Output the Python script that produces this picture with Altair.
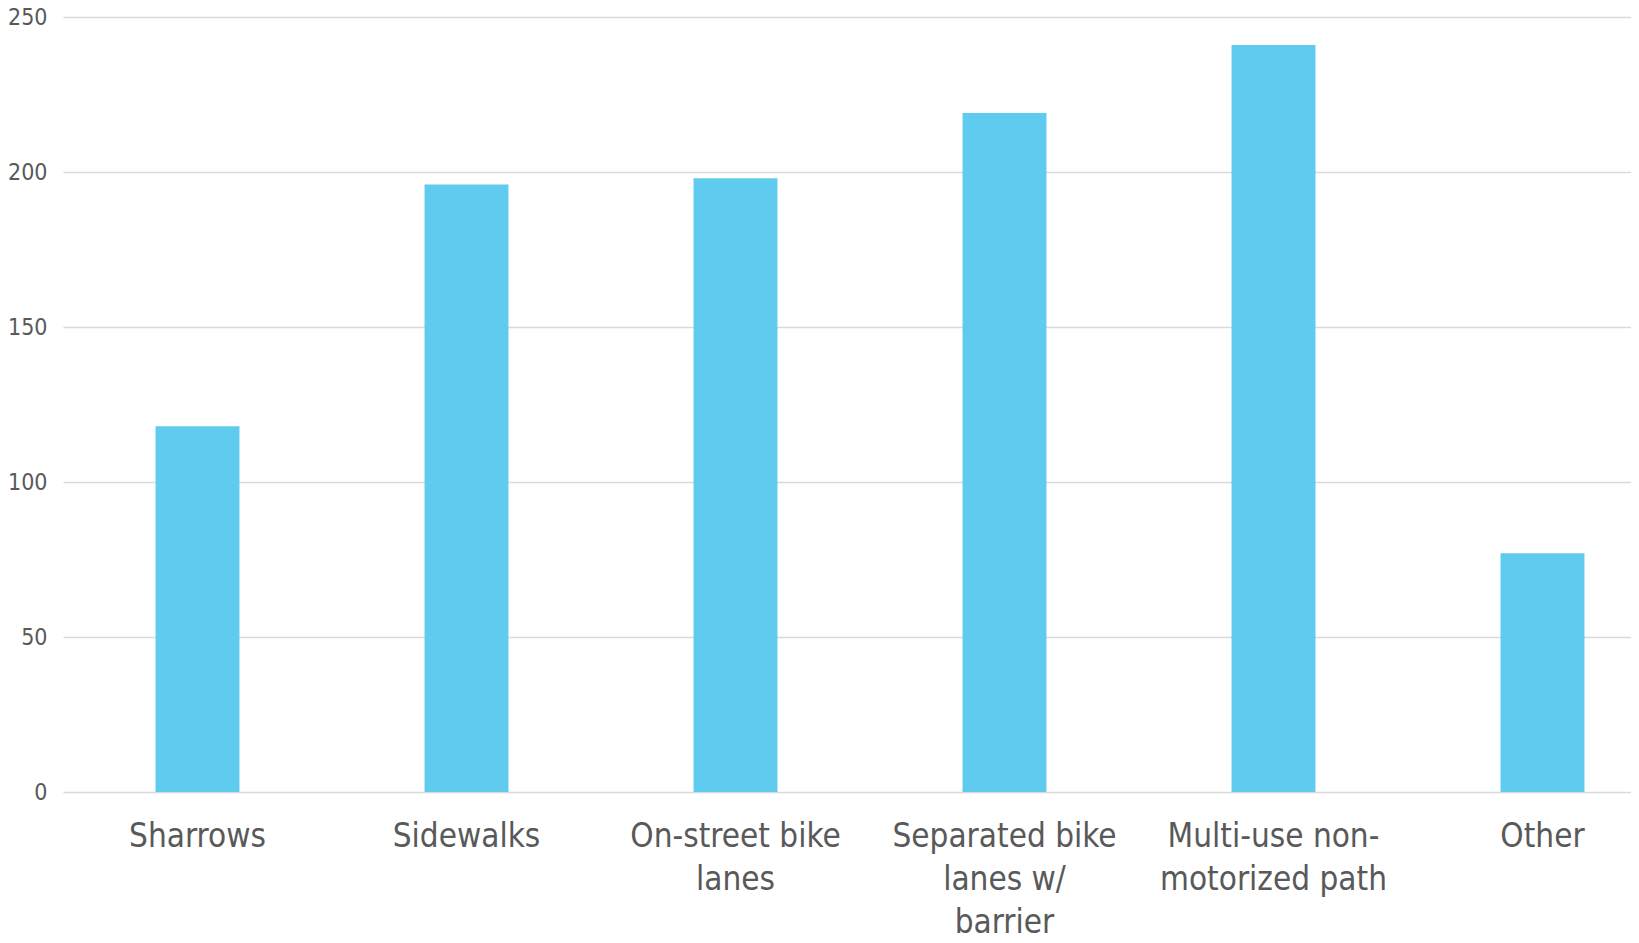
import altair as alt
import pandas as pd

categories = [
    "Sharrows",
    "Sidewalks",
    "On-street bike\nlanes",
    "Separated bike\nlanes w/\nbarrier",
    "Multi-use non-\nmotorized path",
    "Other",
]
values = [118, 196, 198, 219, 241, 77]
y_ticks = [0, 50, 100, 150, 200, 250]

df = pd.DataFrame({"category": categories, "value": values})

FONT = "DejaVu Sans Condensed, Lato, DejaVu Sans"

chart = (
    alt.Chart(df)
    .mark_bar(color="#5FCBEE")
    .encode(
        x=alt.X(
            "category:N",
            sort=categories,
            title=None,
            scale=alt.Scale(paddingInner=0.688, paddingOuter=0.344),
            axis=alt.Axis(
                labelAngle=0,
                labelExpr="split(datum.label, '\\n')",
                labelFont=FONT,
                labelFontSize=33,
                labelColor="#595959",
                labelPadding=28,
                labelLineHeight=43,
                labelLimit=1000,
                ticks=False,
                domain=False,
                grid=False,
                labelBaseline="top",
            ),
        ),
        y=alt.Y(
            "value:Q",
            title=None,
            scale=alt.Scale(domain=[0, 250], nice=False),
            axis=alt.Axis(
                values=y_ticks,
                labelFont=FONT,
                labelFontSize=23,
                labelColor="#595959",
                labelPadding=16,
                ticks=False,
                domain=False,
                gridColor="#D9D9D9",
                gridWidth=1.5,
            ),
        ),
    )
    .properties(
        width=1614,
        height=775,
        background="white",
        autosize=alt.AutoSizeParams(type="none"),
        padding={"left": 55, "top": 9, "right": -46, "bottom": 143},
    )
    .configure_view(strokeWidth=0, stroke="transparent")
)

chart.save("out.html", embed_options={"renderer": "svg", "actions": False})
